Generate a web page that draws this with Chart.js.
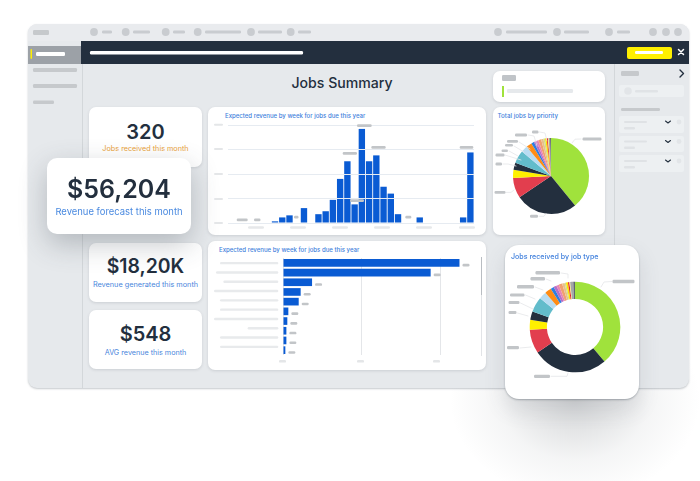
<!DOCTYPE html>
<html><head><meta charset="utf-8">
<script src="https://cdn.jsdelivr.net/npm/chart.js@4"></script>
<style>
html,body{margin:0;padding:0;background:#fff;overflow:hidden}
#stage{position:relative;width:700px;height:481px;font-family:Inter,"Noto Sans",sans-serif;overflow:hidden}
#stage>*{position:absolute;box-sizing:border-box}
.card{background:#fff;border-radius:7px;box-shadow:0 1px 3px rgba(60,70,80,.16)}
.txt{white-space:nowrap;text-align:center;line-height:1}
canvas{position:absolute}
</style></head><body>
<div id="stage">
  <div id="glowB" style="left:440px;top:360px;width:260px;height:121px;background:radial-gradient(ellipse 125px 100px at 135px 40px,rgba(120,125,130,.32),rgba(160,165,170,.11) 60%,rgba(255,255,255,0) 100%)"></div>
  <div style="left:28px;top:24px;width:661px;height:364px;background:#e6e9ec;border-radius:9px;box-shadow:0 1px 2px rgba(90,100,110,.35)"></div>
  <div style="left:28px;top:24px;width:661px;height:17px;background:#e9ebee;border-radius:9px 9px 0 0"></div>
  <div style="left:82px;top:63px;width:1px;height:325px;background:#d3d7da"></div>
  <div style="left:614px;top:63px;width:1px;height:325px;background:#d3d7da"></div>
  <div style="left:28px;top:46px;width:54px;height:18px;background:#9ca1a7"></div>
  <div style="left:81px;top:41px;width:608px;height:23px;background:#232f3e"></div>
  <div style="left:627px;top:46.5px;width:45px;height:12px;background:#fff000;border-radius:2px"></div>

  <div class="txt" style="left:242px;top:75.5px;width:200px;font-size:14.1px;font-weight:500;color:#232f3e">Jobs Summary</div>

  <div class="card" style="left:89px;top:107px;width:113px;height:60px"></div>
  <div class="txt" style="left:89px;top:122px;width:113px;font-size:20px;font-weight:600;color:#232f3e">320</div>
  <div class="txt" style="left:89px;top:144.5px;width:113px;font-size:7.25px;color:#e9a23b">Jobs received this month</div>

  <div class="card" style="left:89px;top:243px;width:113px;height:59px"></div>
  <div class="txt" style="left:89px;top:257px;width:113px;font-size:19.4px;font-weight:600;color:#232f3e">$18,20K</div>
  <div class="txt" style="left:89px;top:280.5px;width:113px;font-size:7.3px;color:#4a86dc">Revenue generated this month</div>

  <div class="card" style="left:89px;top:310px;width:113px;height:59px"></div>
  <div class="txt" style="left:89px;top:324px;width:113px;font-size:20px;font-weight:600;color:#232f3e">$548</div>
  <div class="txt" style="left:89px;top:348.5px;width:113px;font-size:7.2px;color:#4a86dc">AVG revenue this month</div>

  <div class="card" style="left:208px;top:107px;width:278px;height:128px"></div>
  <div class="txt" style="left:225px;top:113px;font-size:6.05px;font-weight:500;color:#3f7fdc">Expected revenue by week for jobs due this year</div>
  <div id="boxBar" style="left:225.5px;top:122.7px;width:250px;height:102.3px"><canvas id="barWeek"></canvas></div>

  <div class="card" style="left:208px;top:241px;width:278px;height:129px"></div>
  <div class="txt" style="left:219px;top:246.5px;font-size:6.05px;font-weight:500;color:#3f7fdc">Expected revenue by week for jobs due this year</div>
  <div id="boxH" style="left:280.7px;top:255.7px;width:198px;height:101.3px"><canvas id="barType"></canvas></div>
  <div style="left:480.5px;top:257px;width:1.5px;height:99px;background:#e2e4e7"></div>
  <div style="left:480.5px;top:257px;width:1.5px;height:38px;background:#b9bdc2"></div>

  <div class="card" style="left:493px;top:71px;width:112px;height:31px"></div>
  <div style="left:501.5px;top:86px;width:2px;height:11px;background:#a0e23c"></div>

  <div class="card" style="left:493px;top:107px;width:112px;height:128px"></div>
  <div class="txt" style="left:497.5px;top:113px;font-size:6.2px;font-weight:500;color:#3f7fdc">Total jobs by priority</div>
  <div id="boxPie" style="left:511px;top:135.7px;width:80px;height:80px"><canvas id="piePriority"></canvas></div>

  <div style="left:619px;top:85px;width:65px;height:12px;background:#edf0f2;border-radius:2px"></div>
  <div style="left:619px;top:116px;width:65px;height:17px;background:#edf0f2;border-radius:2px"></div>
  <div style="left:619px;top:136px;width:65px;height:16px;background:#edf0f2;border-radius:2px"></div>
  <div style="left:619px;top:155px;width:65px;height:17px;background:#edf0f2;border-radius:2px"></div>

  <div style="left:47px;top:158px;width:144px;height:76px;background:#fff;border-radius:10px;box-shadow:0 10px 28px rgba(60,70,80,.30)"></div>
  <div class="txt" style="left:47px;top:176.5px;width:144px;font-size:25px;font-weight:600;color:#232f3e">$56,204</div>
  <div class="txt" style="left:47px;top:207px;width:144px;font-size:9.45px;color:#4a8ae0">Revenue forecast this month</div>

  <div style="left:505px;top:245px;width:134px;height:154px;background:#fff;border-radius:14px;box-shadow:0 1px 2px rgba(70,80,90,.4),0 10px 22px rgba(70,80,90,.14)"></div>
  <div class="txt" style="left:511px;top:252.5px;font-size:7.1px;font-weight:500;color:#3f7fdc">Jobs received by job type</div>
  <div id="boxDonut" style="left:527.7px;top:280.3px;width:94px;height:94px"><canvas id="donutType"></canvas></div>

  <svg id="overlay" width="700" height="481" viewBox="0 0 700 481" style="left:0;top:0;pointer-events:none"></svg>
</div>
<script>
// ---------- chart data ----------
const weekCategories = ["W1","W2","W3","W4","W5","W6","W7","W8","W9","W10","W11","W12","W13","W14","W15","W16","W17","W18","W19","W20","W21","W22","W23","W24","W25","W26","W27","W28","W29","W30","W31","W32","W33","W34"];
const weekRevenue = [0,0,0,0,0,0,1.7,5.7,7.8,0,15.2,0,9,12,23.6,45,63,19,96,63,69,37,30,9,0,0,5.7,0,0,0,0,0,5.7,72];
const weekTicks = [0,25,50,75,100];

const jobTypeCategories = ["A","B","C","D","E","F","G","H","I","J"];
const jobTypeRevenue = [224.7,188,37,22.5,20,6.8,5.5,4.3,4.3,3];

const priorityCategories = ["p1","p2","p3","p4","p5","p6","p7","p8","p9","p10","p11","p12","p13","p14","p15","p16","p17","p18","p19"];
const priorityShare = [39,26.4,8.6,3.5,3,5.5,2.8,2.4,1.2,1.1,0.9,1.2,1,0.7,0.7,0.5,0.3,0.6,0.4];

const jobTypeShareCategories = ["t1","t2","t3","t4","t5","t6","t7","t8","t9","t10","t11","t12","t13","t14","t15","t16","t17","t18","t19"];
const jobTypeShare = [38.7,26.7,8.6,3.5,3,5.4,2.7,2.3,1.2,1.1,0.9,1.2,0.9,0.5,0.7,0.5,0.3,1.1,0.6];

const sliceColors = ["#a0e23c","#232f3e","#e23e4e","#fff000","#232f3e","#62bccb","#b8dcf2","#ff8c14","#2f7fe0","#b56fc8","#e884b4","#f0a070","#e8c08c","#cfe08c","#ffe000","#e0202e","#f8f080","#a4a6a8","#5f6670"];
const BLUE = "#0a5bd3";

// ---------- placeholder chrome (greyed-out text of the original) ----------
const G = "#c3c6c9", L = "#dfe2e5", V = "#c2c5c8", LINE = "#e4e6e8";
const svg = document.getElementById("overlay");
function el(n,a){const e=document.createElementNS("http://www.w3.org/2000/svg",n);for(const k in a)e.setAttribute(k,a[k]);svg.appendChild(e);return e;}
function pill(x0,x1,y0,y1,c){el("rect",{x:x0,y:y0,width:x1-x0,height:y1-y0,rx:Math.min(1.2,(y1-y0)/2),fill:c});}
function dot(x,y,r,c){el("circle",{cx:x,cy:y,r:r,fill:c});}
function path(d,c,w){el("path",{d:d,stroke:c,"stroke-width":w,fill:"none","stroke-linecap":"round","stroke-linejoin":"round"});}

// top strip
pill(33,49,30,35,"#c6c9cc");
[[94,102,112],[125.7,133,150],[165.7,173,185],[197.7,205,241],[251,258,282],[290.7,298,311],[498,506,547],[557,564,589],[609,617,630]]
 .forEach(([c,a,b])=>{dot(c,32,3.9,"#c9ccd0");pill(a,b,30.5,33.5,"#c9ccd0");});
[653,666,678].forEach(c=>dot(c,32,3.9,"#c9ccd0"));
// sidebar
pill(30.5,32,49,59,"#fff000");
pill(36,65,52,56,"#fff");
pill(33,77,68,72,"#c6c9cc");pill(33,77,84,88,"#c6c9cc");pill(33,54,100.6,104,"#c6c9cc");
// header
pill(90,303,51,54.5,"#fff");
pill(635,663,51,54,"#fff");
path("M678.5 49.5L683.5 54.5M683.5 49.5L678.5 54.5","#fff",1.5);
// right panel
pill(621,639,71,76,"#c6c9cc");
path("M680 70L683.5 73.5L680 77","#232f3e",1.4);
dot(628,91,3.8,"#e2e5e8");pill(635,658,90,92.5,"#e0e3e6");
pill(621,660,108,111,"#c6c9cc");
[121,140.5,160].forEach(y=>{
  pill(624,647,y,y+2,"#dfe2e5");pill(624,635,y+6,y+8.5,"#dfe2e5");
  path(`M665.5 ${y}L668 ${y+2}L670.5 ${y}`,"#232f3e",1.1);
  dot(679,y+1,2.4,"#e2e5e8");
});
// status card
pill(502,516,75,81,"#c0c4c8");
pill(507,573,89,93,"#e6e9ec");
// weekly bars: axis labels
[124.7,148.9,174,199,223].forEach(y=>pill(214,223,y-1,y+1,"#e4e6e8"));
[256,298,340,382,424,467].forEach(x=>pill(x-8,x+8,226.2,228.8,"#e6e8ea"));
// weekly bars: value labels
[[236.7,247.7,218.6,221.2],[254,260.5,218.6,221.2],[294,298.5,215.8,218.4],[342.7,357,152,154.8],[350,364,199.2,202],[357,371.7,124.3,127],[371.3,385.7,146,148.8],[405.3,411.3,215.8,218.4],[459.7,473.3,146,148.8]]
 .forEach(p=>pill(p[0],p[1],p[2],p[3],V));
// horizontal bars: labels
[60,48,70,42,60,60,42,143,60,60].forEach((x,i)=>{const y=238+(75.5+i*27.9)/3;pill(200+x/3,278.3,y-1.2,y+1.2,"#e8eaec");});
[[279,286],[357,364],[433,440]].forEach(p=>pill(p[0],p[1],360,362.6,"#e4e6e8"));
// pie labels + leaders
const pieLabels=[[582.5,601.5,137.6,140.4,"M572 143L575 139.2L581 139"],[530,538,214.8,217.8,"M539 216.3L544 216.3L546 213.5"],[494.5,505.5,191,193.8,"M506 192.4L511 192.4L514 190"],[495.5,502,162.5,165.5,"M503 164L508 164L516 166"],[501.5,508,149.5,152,"M509 151L518 156"],[495.5,504.5,153.5,156.5,"M505 155L521 160"],[505,513,144,146.5,"M514 146L524 152"],[507,518,140,142.8,"M519 142L530 149"],[515,527,133.6,136.4,"M528 135L534 136L537 146"],[532,538.5,130.6,133.4,"M539.5 132L545 133L547 141"]];
pieLabels.forEach(p=>{path(p[4],LINE,.8);pill(p[0],p[1],p[2],p[3],V);});
// donut labels + leaders
const donutLabels=[[612.5,634.5,279.7,283.3,"M601 287L604 282L612 281.5"],[534,550,374.7,377.9,"M551 376.3L567 376.3L568 373"],[507,519,346,349.2,"M520 348L531 347"],[508.5,516.5,311,314,"M517.5 313L528 316"],[508.5,519.5,301,304,"M520.5 303L533 309"],[510,524.5,293.5,296.5,"M525.5 295L535 299"],[517,534,285,288.5,"M535 287L543 290"],[530.5,545,277,280.5,"M546 279L551 281"],[535.5,560,271,274.5,"M561 273L568 274L568 278"]];
donutLabels.forEach(p=>{path(p[4],LINE,.8);pill(p[0],p[1],p[2],p[3],V);});

// ---------- charts ----------
Chart.defaults.animation=false;
Chart.defaults.responsive=false;
Chart.defaults.maintainAspectRatio=false;
function size(id,box){const c=document.getElementById(id),b=document.getElementById(box);c.width=b.clientWidth||parseFloat(b.style.width);c.height=parseFloat(b.style.height);c.style.width=b.style.width;c.style.height=b.style.height;return c;}
Object.assign(Chart.defaults.plugins.legend,{display:false});
Chart.defaults.plugins.tooltip.enabled=false;

new Chart(size("barWeek","boxBar"),{type:"bar",
  data:{labels:weekCategories,datasets:[{data:weekRevenue,backgroundColor:BLUE,barPercentage:.88,categoryPercentage:1}]},
  options:{layout:{padding:{left:2,right:2,top:2,bottom:2}},
    scales:{x:{display:false},
      y:{min:weekTicks[0],max:weekTicks[weekTicks.length-1],afterBuildTicks:a=>{a.ticks=weekTicks.map(v=>({value:v}));},
         ticks:{display:false},border:{display:false},grid:{color:"#e6ebf1",lineWidth:1,drawTicks:false,z:1}}}}});

const hValuePills={id:"hValuePills",afterDraw(c){const x=c.ctx,m=c.getDatasetMeta(0);x.fillStyle=V;
  m.data.forEach(b=>{x.beginPath();x.roundRect(b.x+3,b.y+1,7,2.6,1.2);x.fill();});}};
new Chart(size("barType","boxH"),{type:"bar",plugins:[hValuePills],
  data:{labels:jobTypeCategories,datasets:[{data:jobTypeRevenue,backgroundColor:BLUE,barPercentage:.79,categoryPercentage:1}]},
  options:{indexAxis:"y",layout:{padding:{left:2,right:2,top:2,bottom:2}},
    scales:{y:{display:false},
      x:{min:0,max:247,ticks:{display:false,stepSize:100,includeBounds:false},border:{display:false},grid:{color:"#e4e6e9",drawTicks:false}}}}});

new Chart(size("piePriority","boxPie"),{type:"pie",
  data:{labels:priorityCategories,datasets:[{data:priorityShare,backgroundColor:sliceColors,borderWidth:0}]},
  options:{layout:{padding:2}}});

new Chart(size("donutType","boxDonut"),{type:"doughnut",
  data:{labels:jobTypeShareCategories,datasets:[{data:jobTypeShare,backgroundColor:sliceColors,borderWidth:0}]},
  options:{cutout:"62%",layout:{padding:1.7}}});
</script>
</body></html>
